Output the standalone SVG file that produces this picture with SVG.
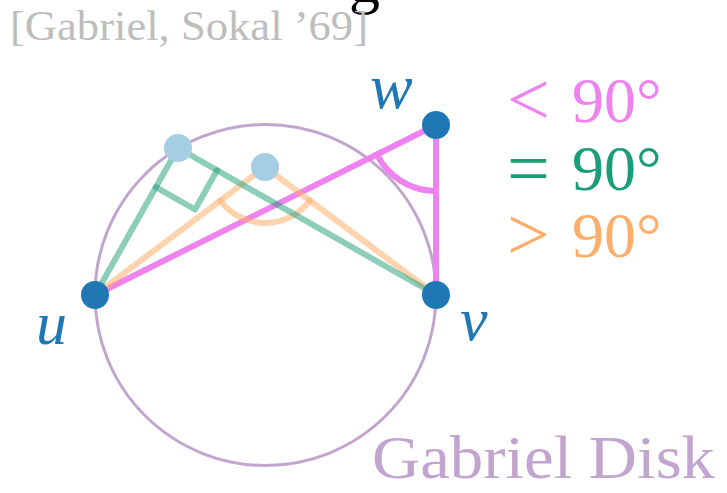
<svg xmlns="http://www.w3.org/2000/svg" width="727" height="493" viewBox="0 0 727 493">
<style>
.serif{font-family:"Liberation Serif","DejaVu Serif",serif}
.ital{font-family:"Liberation Serif","DejaVu Serif",serif;font-style:italic;fill:#1f78b4}
.edge{fill:none;stroke-width:6;stroke-linecap:round;stroke-linejoin:round}
.lt{stroke:#ee82ee}
.eq{stroke:#1b9e77;stroke-opacity:0.5}
.gt{stroke:#fdae6b;stroke-opacity:0.55}
.node{fill:#1f78b4}
.wit{fill:#a6cee3}
.sym{font-size:76px}
</style>
<rect width="727" height="493" fill="#fff"/>
<text class="serif" x="349" y="2" font-size="62" fill="#000">g</text>
<text class="serif" x="10" y="40" font-size="43" fill="#bdbdbd" textLength="358" lengthAdjust="spacingAndGlyphs">[Gabriel, Sokal ’69]</text>
<circle id="disk" cx="265.5" cy="295" r="170.5" fill="none" stroke="#c2a5cf" stroke-width="3"/>
<g id="connectors">
<path class="edge lt" d="M95,295 L436,125 L436,295"/>
<path class="edge lt" d="M376.9,154.4 A66,66 0 0 0 436,191"/>
<path class="edge gt" d="M95,295 L265,167 L436,295"/>
<path class="edge gt" d="M220.3,200.7 A56,56 0 0 0 309.8,200.5"/>
<path class="edge eq" d="M95,295 L178,148 L436,295"/>
<path class="edge eq" d="M155.9,187.2 L195,209.5 L217.1,170.3"/>
</g>
<g id="u"><circle class="node" cx="95" cy="295" r="14"/><text class="ital" x="36" y="344" font-size="62">u</text></g>
<g id="v"><circle class="node" cx="436" cy="295" r="14"/><text class="ital" x="460" y="340" font-size="62">v</text></g>
<g id="w"><circle class="node" cx="436" cy="125" r="14"/><text class="ital" x="370" y="108" font-size="64">w</text></g>
<g id="p1"><circle class="wit" cx="178" cy="148" r="14"/></g>
<g id="p2"><circle class="wit" cx="265" cy="167" r="14"/></g>
<g id="legend" class="serif" font-size="64">
<text y="122" fill="#ee82ee"><tspan class="sym" x="507" dy="3">&lt;</tspan><tspan x="572" dy="-3">90°</tspan></text>
<text y="190" fill="#1b9e77"><tspan class="sym" x="507" dy="4">=</tspan><tspan x="572" dy="-4">90°</tspan></text>
<text y="257" fill="#fdae6b"><tspan class="sym" x="507" dy="3">&gt;</tspan><tspan x="572" dy="-3">90°</tspan></text>
</g>
<text class="serif" x="372" y="478" font-size="62" fill="#c2a5cf" textLength="343" lengthAdjust="spacingAndGlyphs">Gabriel Disk</text>
</svg>
